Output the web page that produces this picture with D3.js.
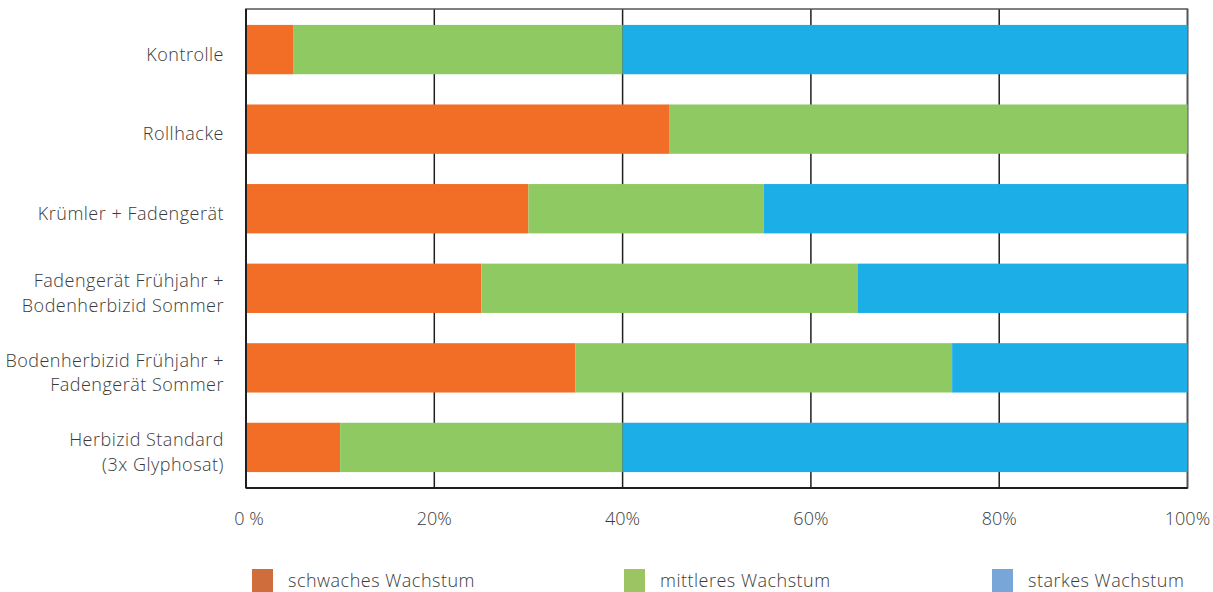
<!DOCTYPE html>
<html>
<head>
<meta charset="utf-8">
<script src="https://cdn.jsdelivr.net/npm/d3@7"></script>
<style>
  html, body { margin: 0; padding: 0; background: #fff; }
  svg { display: block; }
  text { font-family: "Open Sans", Roboto, sans-serif; font-weight: 300; fill: #3a3a3a; }
  .lbl { letter-spacing: 0.5px; }
</style>
</head>
<body>
<script>
// ---- data ----
const categories = [
  ["Kontrolle"],
  ["Rollhacke"],
  ["Krümler + Fadengerät"],
  ["Fadengerät Frühjahr +", "Bodenherbizid Sommer"],
  ["Bodenherbizid Frühjahr +", "Fadengerät Sommer"],
  ["Herbizid Standard", "(3x Glyphosat)"]
];
const seriesNames = ["schwaches Wachstum", "mittleres Wachstum", "starkes Wachstum"];
const schwach = [5, 45, 30, 25, 35, 10];
const mittel  = [35, 55, 25, 40, 40, 30];
const stark   = [60, 0, 45, 35, 25, 60];
const tickValues = [0, 20, 40, 60, 80, 100];
const tickLabels = ["0 %", "20%", "40%", "60%", "80%", "100%"];

const barColors = ["#f26d25", "#8fc962", "#1caee6"];
const legendColors = ["#d06d3c", "#9dc463", "#78a6d9"];

// ---- layout ----
const W = 1213, H = 592;
const pLeft = 246, pRight = 1187.5, pTop = 9, pBottom = 488;

const svg = d3.select("body").append("svg").attr("width", W).attr("height", H);

const x = d3.scaleLinear().domain([0, 100]).range([pLeft, pRight]);
const keys = categories.map(c => c.join(" "));
const y = d3.scaleBand().domain(keys).range([pTop, pBottom]).paddingInner(0.38).paddingOuter(0.2);

const rows = keys.map((k, i) => ({ key: k, s0: schwach[i], s1: mittel[i], s2: stark[i] }));
const stack = d3.stack().keys(["s0", "s1", "s2"])(rows);

// gridlines
svg.append("g").selectAll("line").data(tickValues).join("line")
  .attr("x1", d => x(d)).attr("x2", d => x(d))
  .attr("y1", pTop).attr("y2", pBottom)
  .attr("stroke", "#1e1e1e").attr("stroke-width", 1.5);

// frame
svg.append("rect")
  .attr("x", pLeft).attr("y", pTop).attr("width", pRight - pLeft).attr("height", pBottom - pTop)
  .attr("fill", "none").attr("stroke", "#555").attr("stroke-width", 1.5);

// bars
svg.append("g").selectAll("g").data(stack).join("g")
  .attr("fill", (d, i) => barColors[i])
  .selectAll("rect").data(d => d.filter(p => p[1] > p[0])).join("rect")
  .attr("x", d => x(d[0]))
  .attr("width", d => x(d[1]) - x(d[0]))
  .attr("y", d => y(d.data.key))
  .attr("height", y.bandwidth());

// axes lines (left/bottom, darker)
svg.append("line").attr("x1", pLeft).attr("x2", pLeft).attr("y1", pTop).attr("y2", pBottom)
  .attr("stroke", "#1e1e1e").attr("stroke-width", 2);
svg.append("line").attr("x1", pLeft).attr("x2", pRight).attr("y1", pBottom).attr("y2", pBottom)
  .attr("stroke", "#1e1e1e").attr("stroke-width", 2);

// x tick labels
svg.append("g").selectAll("text").data(tickValues).join("text")
  .attr("x", (d, i) => x(d) + (i === 0 ? 3 : 0))
  .attr("y", 525)
  .attr("text-anchor", "middle")
  .attr("font-size", 18)
  .text((d, i) => tickLabels[i]);

// y category labels
const lab = svg.append("g").selectAll("text").data(categories).join("text")
  .attr("class", "lbl")
  .attr("text-anchor", "end")
  .attr("font-size", 18)
  .attr("x", 224)
  .attr("y", (d, i) => y(keys[i]) + y.bandwidth() / 2 + 5);
lab.selectAll("tspan").data(d => d.map((t, j) => ({ t, j, n: d.length }))).join("tspan")
  .attr("x", 224)
  .attr("dy", d => d.j === 0 ? ((-(d.n - 1) * 24.5) / 2 + 6) + "px" : "24.5px")
  .text(d => d.t);

// legend
const legX = [252, 624, 992];
const lg = svg.append("g").selectAll("g").data(seriesNames).join("g")
  .attr("transform", (d, i) => `translate(${legX[i]},569)`);
lg.append("rect").attr("width", 21).attr("height", 23).attr("fill", (d, i) => legendColors[i]);
lg.append("text").attr("class", "lbl").attr("x", 36).attr("y", 18).attr("font-size", 18).text(d => d);
</script>
</body>
</html>
